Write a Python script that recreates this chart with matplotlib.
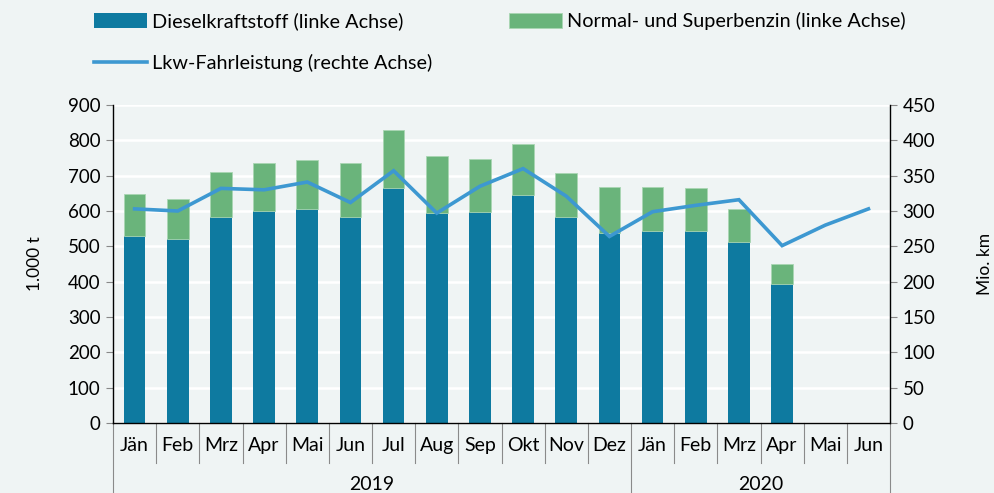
import matplotlib.pyplot as plt
from matplotlib.transforms import blended_transform_factory

plt.rcParams['font.family'] = ['Lato', 'DejaVu Sans']

months = ['Jän', 'Feb', 'Mrz', 'Apr', 'Mai', 'Jun', 'Jul', 'Aug', 'Sep', 'Okt', 'Nov', 'Dez',
          'Jän', 'Feb', 'Mrz', 'Apr', 'Mai', 'Jun']
years = ['2019', '2020']
year_len = [12, 6]

# 1.000 t
diesel = [530, 520, 582, 601, 607, 584, 666, 595, 598, 645, 584, 537,
          543, 543, 513, 394]
gesamt = [647, 633, 710, 736, 745, 737, 829, 755, 747, 790, 707, 667,
          667, 665, 605, 450]
benzin = [g - d for g, d in zip(gesamt, diesel)]
# Mio. km
lkw = [303, 300, 332, 330, 341, 312, 357, 297, 335, 360, 321, 264,
       299, 308, 316, 251, 280, 303]

bg = '#eff4f4'
c_diesel = '#0e7aa0'
c_benzin = '#6ab47b'
c_line = '#3d98d1'

fig = plt.figure(figsize=(9.94, 4.93), dpi=100, facecolor=bg)
ax = fig.add_axes([0.1137, 0.142, 0.7817, 0.645])
ax.set_facecolor(bg)
ax2 = ax.twinx()

x = list(range(len(diesel)))
b1 = ax.bar(x, diesel, width=0.5, color=c_diesel, zorder=2)
b2 = ax.bar(x, benzin, bottom=diesel, width=0.5, color=c_benzin,
            edgecolor='#a9d6b3', linewidth=0.6, zorder=2)
l1, = ax2.plot(range(len(lkw)), lkw, color=c_line, lw=2.6, solid_joinstyle='miter')

ax.set_xlim(-0.5, len(months) - 0.5)
ax.set_ylim(0, 900)
ax2.set_ylim(0, 450)
ax.set_yticks(range(0, 901, 100))
ax2.set_yticks(range(0, 451, 50))
ax.yaxis.grid(True, color='white', lw=1.8, zorder=0)
ax.set_axisbelow(True)

for a in (ax, ax2):
    a.spines['top'].set_visible(False)
    a.tick_params(axis='y', labelsize=13.5, length=5, color='#888888', pad=4)
ax.spines['right'].set_visible(False)
ax2.spines['left'].set_visible(False)
ax2.spines['right'].set_linewidth(1.0)
ax.spines['left'].set_linewidth(1.0)
ax.spines['bottom'].set_linewidth(1.0)
ax2.spines['bottom'].set_visible(False)
ax.set_xticks([])

ax.set_ylabel('1.000 t', fontsize=12.5, labelpad=18)
ax2.set_ylabel('Mio. km', fontsize=12.5, labelpad=30)

# category axis with months and years
tr = blended_transform_factory(ax.transData, ax.transAxes)
for i, m in enumerate(months):
    ax.text(i, -0.07, m, transform=tr, ha='center', va='center', fontsize=14)
bounds = [-0.5]
for n in year_len:
    bounds.append(bounds[-1] + n)
for i in range(len(months) + 1):
    xb = i - 0.5
    low = -0.22 if xb in bounds else -0.126
    ax.plot([xb, xb], [0, low], transform=tr, color='#8a8a8a', lw=0.8, clip_on=False)
for k, yr in enumerate(years):
    ax.text((bounds[k] + bounds[k + 1]) / 2, -0.193, yr, transform=tr,
            ha='center', va='center', fontsize=14)

fig.legend([b1, l1, b2],
           ['Dieselkraftstoff (linke Achse)', 'Lkw-Fahrleistung (rechte Achse)',
            'Normal- und Superbenzin (linke Achse)'],
           ncol=2, loc='upper left', bbox_to_anchor=(0.0765, 1.012), frameon=False,
           fontsize=14.3, handlelength=2.66, handleheight=0.8, labelspacing=1.2,
           columnspacing=3.9, handletextpad=0.25)

fig.savefig('out.png', dpi=100, facecolor=bg)
